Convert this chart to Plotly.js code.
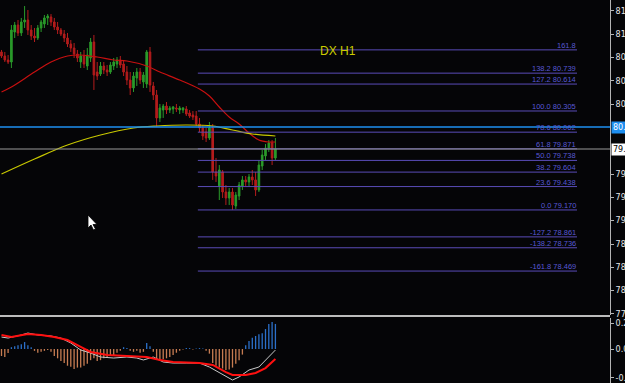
<!DOCTYPE html>
<html>
<head>
<meta charset="utf-8">
<script src="https://cdn.plot.ly/plotly-3.0.1.min.js"></script>
<style>
html,body{margin:0;padding:0;background:#050507;}
#chart{width:625px;height:383px;}
</style>
</head>
<body>
<div id="chart"></div>
<script>
// ---- DATA (DX H1) ----
const open = [80.982,80.936,80.890,80.867,81.211,81.291,81.200,81.326,81.349,81.234,
81.165,81.142,81.257,81.303,81.372,81.383,81.326,81.268,81.234,81.188,
81.142,81.073,81.027,80.959,80.867,80.936,80.821,80.913,81.096,80.752,
80.729,80.821,80.775,80.752,80.821,80.844,80.890,80.844,80.752,80.660,
80.569,80.683,80.752,80.638,80.615,80.982,80.592,80.488,80.225,80.316,
80.362,80.316,80.328,80.339,80.316,80.316,80.328,80.282,80.259,80.247,
80.156,80.110,80.064,79.995,80.110,79.605,79.445,79.605,79.376,79.307,
79.376,79.215,79.330,79.445,79.514,79.491,79.548,79.514,79.399,79.674,
79.789,79.880,79.938,79.766];
const high = [81.005,80.982,80.947,81.291,81.326,81.349,81.372,81.509,81.463,81.291,
81.257,81.291,81.349,81.406,81.417,81.417,81.372,81.326,81.257,81.234,
81.200,81.119,81.085,81.005,80.982,81.005,81.027,81.142,81.177,80.867,
80.867,80.867,80.832,80.867,80.913,80.924,80.936,80.890,80.821,80.752,
80.752,80.798,80.798,80.752,81.005,81.039,80.638,80.546,80.385,80.385,
80.408,80.362,80.362,80.385,80.362,80.351,80.362,80.316,80.305,80.305,
80.225,80.144,80.110,80.179,80.156,79.766,79.685,79.628,79.456,79.422,
79.422,79.376,79.491,79.559,79.559,79.582,79.628,79.605,79.743,79.858,
79.926,79.972,79.972,79.995];
const low = [80.913,80.867,80.844,80.798,81.142,81.165,81.165,81.257,81.177,81.119,
81.096,81.119,81.211,81.257,81.291,81.280,81.234,81.188,81.165,81.096,
81.039,80.982,80.913,80.867,80.798,80.798,80.775,80.867,80.546,80.660,
80.706,80.729,80.706,80.729,80.775,80.798,80.798,80.706,80.603,80.488,
80.523,80.592,80.615,80.569,80.569,80.523,80.431,80.121,80.179,80.225,
80.270,80.282,80.270,80.293,80.270,80.282,80.247,80.225,80.202,80.133,
80.064,79.972,79.949,79.972,79.514,79.491,79.284,79.307,79.227,79.227,
79.170,79.181,79.284,79.399,79.445,79.445,79.456,79.330,79.376,79.628,
79.743,79.835,79.685,79.743];
const close = [80.936,80.890,80.867,81.234,81.291,81.200,81.326,81.349,81.234,81.165,
81.142,81.257,81.326,81.372,81.394,81.326,81.268,81.234,81.188,81.142,
81.073,81.027,80.959,80.913,80.936,80.844,80.947,81.096,80.718,80.706,
80.821,80.775,80.752,80.832,80.867,80.890,80.832,80.752,80.660,80.569,
80.706,80.752,80.660,80.718,80.982,80.603,80.488,80.225,80.339,80.362,
80.316,80.339,80.351,80.328,80.339,80.339,80.270,80.247,80.236,80.156,
80.110,80.018,79.995,80.110,79.605,79.559,79.628,79.376,79.307,79.376,
79.227,79.341,79.456,79.514,79.491,79.548,79.514,79.399,79.685,79.800,
79.880,79.938,79.766,79.869];

// moving averages (bar index, value)
const redMaBars = [0,3,10,15,20,24,29,34,38,44,48,54,60,63,66,69,72,75,78,81,83];
const redMaVals = [80.523,80.580,80.752,80.867,80.936,80.947,80.924,80.890,80.878,80.821,80.752,80.660,80.557,80.477,80.351,80.236,80.156,80.053,79.972,79.949,79.949];
const yelMaBars = [0,10,20,30,40,47,56,64,70,76,83];
const yelMaVals = [79.582,79.754,79.915,80.030,80.110,80.133,80.144,80.133,80.087,80.041,80.018];

// indicator window
const histVals = [-0.075,-0.086,-0.043,0.02,0.03,0.04,0.05,0.075,0.04,0.02,
-0.02,-0.04,-0.03,-0.02,-0.01,-0.03,-0.075,-0.10,-0.13,-0.15,
-0.18,-0.19,-0.215,-0.20,-0.20,-0.18,-0.16,-0.12,-0.10,-0.13,
-0.12,-0.10,-0.09,-0.075,-0.065,-0.04,-0.02,0.02,0.01,-0.02,
-0.03,-0.02,-0.04,-0.03,0.065,0.03,-0.03,-0.10,-0.13,-0.11,
-0.10,-0.085,-0.065,-0.04,-0.02,-0.005,0.01,0.01,-0.005,0.005,
0.01,0.005,-0.02,-0.05,-0.15,-0.18,-0.20,-0.21,-0.225,-0.22,
-0.20,-0.16,-0.12,-0.06,0.04,0.085,0.12,0.14,0.16,0.17,
0.215,0.27,0.29,0.27];
const macdBars = [0,2,6,8,11,15,18,21,24,27,30,34,38,41,43,46,49,52,56,60,63,66,70,72,75,78,81,83];
const macdVals = [0.129,0.118,0.151,0.172,0.151,0.140,0.118,0.065,-0.011,-0.043,-0.086,-0.097,-0.086,-0.097,-0.118,-0.086,-0.140,-0.151,-0.151,-0.151,-0.194,-0.258,-0.334,-0.301,-0.226,-0.194,-0.086,-0.011];
const sigBars = [0,3,8,12,16,20,24,27,32,38,44,48,52,60,64,68,70,74,77,80,83];
const sigVals = [0.151,0.129,0.161,0.151,0.129,0.097,0.022,-0.032,-0.065,-0.075,-0.086,-0.118,-0.140,-0.151,-0.172,-0.248,-0.280,-0.280,-0.258,-0.205,-0.108];

// fibonacci
const fibLevels = ['161.8','138.2','127.2','100.0','78.6','61.8','50.0','38.2','23.6','0.0','-127.2','-138.2','-161.8'];
const fibPrices = [81.006,80.739,80.614,80.305,80.062,79.871,79.738,79.604,79.438,79.170,78.861,78.736,78.469];

// horizontal lines
const blueLevel = 80.121;
const bidLevel = 79.869;

// price axis ticks (the two hidden under the price boxes are left out)
const priceTicks = [81.452,81.185,80.917,80.650,80.383,79.581,79.314,79.047,78.779,78.512,78.245,77.978];
const indTicks = [0.28,0.0,-0.31];
const indTickText = ['0.2800','0.0000','-0.3100'];

// ---- BUILD ----
const bars = open.map((_, i) => i);
const W = 610, H = 383;
const xMin = -0.4545, xMax = xMin + W / 3.3;
const fibStart = 59.5, fibEnd = 174.4;

const traces = [
  {type:'candlestick', x:bars, open, high, low, close, xaxis:'x', yaxis:'y',
   increasing:{line:{color:'#2a9a2a', width:1}, fillcolor:'#2a9a2a'},
   decreasing:{line:{color:'#b41c1c', width:1}, fillcolor:'#b41c1c'},
   whiskerwidth:0, hoverinfo:'skip'},
  {type:'scatter', mode:'lines', x:redMaBars, y:redMaVals, xaxis:'x', yaxis:'y',
   line:{color:'#c81010', width:1.2, shape:'spline'}, hoverinfo:'skip'},
  {type:'scatter', mode:'lines', x:yelMaBars, y:yelMaVals, xaxis:'x', yaxis:'y',
   line:{color:'#c8c800', width:1.2, shape:'spline'}, hoverinfo:'skip'},
  {type:'bar', x:bars, y:histVals, xaxis:'x2', yaxis:'y2', width:0.4,
   marker:{color:histVals.map(v => v >= 0 ? '#2b6fc8' : '#c67c52'), line:{width:0}}, hoverinfo:'skip'},
  {type:'scatter', mode:'lines', x:macdBars, y:macdVals, xaxis:'x2', yaxis:'y2',
   line:{color:'#c8c8c8', width:1}, hoverinfo:'skip'},
  {type:'scatter', mode:'lines', x:sigBars, y:sigVals, xaxis:'x2', yaxis:'y2',
   line:{color:'#ff1010', width:2}, hoverinfo:'skip'}
];

const shapes = [];
const annotations = [];
fibPrices.forEach((p, i) => {
  shapes.push({type:'line', xref:'x', yref:'y', x0:fibStart, x1:fibEnd, y0:p, y1:p,
    line:{color:'#5a4cb8', width:1}});
  annotations.push({xref:'x', yref:'y', x:fibEnd, y:p, xanchor:'right', yanchor:'bottom',
    text: i === 0 ? fibLevels[i] : fibLevels[i] + ' ' + p.toFixed(3),
    showarrow:false, borderpad:0, yshift:-1,
    font:{family:'Liberation Sans, Arial', size:7.5, color:'#5858d4'}});
});
shapes.push({type:'line', xref:'paper', yref:'y', x0:0, x1:1, y0:blueLevel, y1:blueLevel,
  line:{color:'#1e8ff0', width:1.6}});
shapes.push({type:'line', xref:'paper', yref:'y', x0:0, x1:1, y0:bidLevel, y1:bidLevel,
  line:{color:'#9a9a9a', width:1}});
// panel separator
shapes.push({type:'line', xref:'paper', yref:'paper', x0:0, x1:1, y0:1-316/H, y1:1-316/H,
  line:{color:'#bcbcbc', width:2}});
// mouse cursor
const P = (px, py) => (px / W) + ',' + (1 - py / H);
shapes.push({type:'path', xref:'paper', yref:'paper',
  path:'M' + P(88,215) + ' L' + P(88,228) + ' L' + P(91,225) + ' L' + P(93.5,230) + ' L' + P(95.5,229) + ' L' + P(93,224.5) + ' L' + P(97,224.5) + ' Z',
  fillcolor:'#ffffff', line:{color:'#000000', width:0.8}});

annotations.push({xref:'paper', yref:'paper', x:338/W, y:1-51/H, xanchor:'center', yanchor:'middle',
  text:'DX H1', showarrow:false,
  font:{family:'Liberation Sans, Arial', size:12, color:'#cccc00'}});
annotations.push({xref:'paper', yref:'y', x:1, y:blueLevel, xanchor:'left', xshift:1, text:blueLevel.toFixed(3),
  showarrow:false, bgcolor:'#1e8ff0', borderpad:1, font:{family:'DejaVu Sans', size:8, color:'#ffffff'}});
annotations.push({xref:'paper', yref:'y', x:1, y:bidLevel, xanchor:'left', xshift:1, text:bidLevel.toFixed(3),
  showarrow:false, bgcolor:'#ffffff', borderpad:1, font:{family:'DejaVu Sans', size:8, color:'#000000'}});

const axisStyle = {side:'right', showgrid:false, zeroline:false, showline:true, linecolor:'#b4b4b4',
  linewidth:1, ticks:'outside', ticklen:3, tickcolor:'#b4b4b4',
  tickfont:{family:'DejaVu Sans', size:8, color:'#e6e6e6'}, fixedrange:true};

const layout = {
  width:625, height:383,
  margin:{l:0, r:15, t:0, b:0, pad:0},
  paper_bgcolor:'#050507', plot_bgcolor:'#050507',
  showlegend:false,
  xaxis:{domain:[0,1], range:[xMin, xMax], visible:false, rangeslider:{visible:false}, anchor:'y'},
  xaxis2:{domain:[0,1], range:[xMin, xMax], visible:false, anchor:'y2', matches:'x'},
  yaxis:Object.assign({}, axisStyle, {domain:[1-315/H, 1], range:[81.578-0.01147*315, 81.578], anchor:'x',
    tickvals:priceTicks, ticktext:priceTicks.map(v => v.toFixed(3))}),
  yaxis2:Object.assign({}, axisStyle, {domain:[0, 1-318/H], range:[-0.366, 0.334], anchor:'x2',
    tickvals:indTicks, ticktext:indTickText}),
  shapes, annotations
};

Plotly.newPlot('chart', traces, layout, {staticPlot:true, displayModeBar:false});
</script>
</body>
</html>
